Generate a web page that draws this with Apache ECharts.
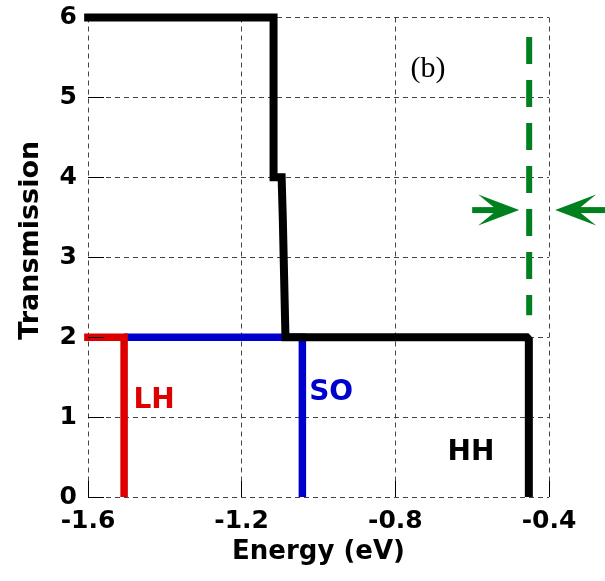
<!DOCTYPE html>
<html><head><meta charset="utf-8">
<script src="https://cdn.jsdelivr.net/npm/echarts@6/dist/echarts.min.js"></script>
<style>html,body{margin:0;padding:0;background:#fff}#c{width:605px;height:581px}</style>
</head><body><div id="c"></div>
<script>
// ---- data ----
const xTicks = [-1.6, -1.2, -0.8, -0.4];
const yTicks = [0, 1, 2, 3, 4, 5, 6];
const hhCurve = [[-1.61, 6], [-1.117, 6], [-1.117, 4.0], [-1.096, 4.0], [-1.093, 3.5], [-1.086, 2], [-0.458, 2], [-0.4525, 1.97], [-0.4525, 0]];
const soCurve = [[-1.506, 2], [-1.042, 2], [-1.042, 0]];
const lhCurve = [[-1.61, 2], [-1.506, 2], [-1.506, 0]];
const markerLine = [[-0.4516, 5.756], [-0.4516, 2.275]];
// arrows: [tailX, tailY, tipX, tipY]
const arrows = [[-0.6, 3.59, -0.4776, 3.59], [-0.254, 3.59, -0.384, 3.59]];
// annotations: [x, y, index]
const annotationText = ['(b)', 'LH', 'SO', 'HH'];
const annotationPos = [[-0.715, 5.35, 0], [-1.428, 1.21, 1], [-0.967, 1.30, 2], [-0.603, 0.56, 3]];

// ---- styles ----
const annotationStyle = [
  { font: '30px "Liberation Serif"', fill: '#000' },
  { font: 'bold 28px "DejaVu Sans"', fill: '#dd0000' },
  { font: 'bold 28px "DejaVu Sans"', fill: '#0000cc' },
  { font: 'bold 28px "DejaVu Sans"', fill: '#000' }
];
const GREEN = '#00801e';
const gridLine = { show: true, lineStyle: { color: '#444', width: 1, type: [5, 4] } };
const tickFont = { fontFamily: 'DejaVu Sans', fontWeight: 'bold', fontSize: 25, color: '#000' };
const nameFont = { fontFamily: 'DejaVu Sans', fontWeight: 'bold', fontSize: 26, color: '#000' };

const chart = echarts.init(document.getElementById('c'), null, { renderer: 'canvas' });
chart.setOption({
  animation: false,
  backgroundColor: '#fff',
  grid: { left: 88, right: 56, top: 17.5, bottom: 84, containLabel: false, outerBoundsMode: 'none' },
  xAxis: [{
    type: 'value', min: xTicks[0], max: xTicks[xTicks.length - 1], interval: 0.4,
    name: 'Energy (eV)', nameLocation: 'middle', nameGap: 38, nameTextStyle: nameFont,
    axisLine: { show: false },
    axisTick: { show: true, inside: true, length: 16, lineStyle: { color: '#000', width: 1 } },
    axisLabel: { ...tickFont, margin: 12, formatter: v => v.toFixed(1) },
    splitLine: gridLine
  }],
  yAxis: [{
    type: 'value', min: yTicks[0], max: yTicks[yTicks.length - 1], interval: 1,
    name: 'Transmission', nameLocation: 'middle', nameGap: 44,
    nameTextStyle: { ...nameFont, fontSize: 27, padding: [0, 0, 0, 34] },
    axisLine: { show: false },
    axisTick: { show: false },
    axisLabel: { ...tickFont, margin: 11 },
    splitLine: gridLine
  }, {
    type: 'value', min: yTicks[0], max: yTicks[yTicks.length - 1], interval: 1, position: 'left', z: 10,
    axisLine: { show: false }, axisLabel: { show: false }, splitLine: { show: false },
    axisTick: { show: true, inside: true, length: 16, lineStyle: { color: '#000', width: 1 } }
  }],
  series: [
    { type: 'line', data: soCurve, symbol: 'none', clip: false, z: 2,
      lineStyle: { color: '#0000cc', width: 7.5, join: 'miter' } },
    { type: 'line', data: lhCurve, symbol: 'none', clip: false, z: 3,
      lineStyle: { color: '#dd0000', width: 7.5, join: 'miter' } },
    { type: 'line', data: hhCurve, symbol: 'none', clip: false, z: 4,
      lineStyle: { color: '#000', width: 8, join: 'miter' } },
    { type: 'line', data: markerLine, symbol: 'none', clip: false, z: 4,
      lineStyle: { color: GREEN, width: 6, type: [27, 16] } },
    { type: 'custom', data: arrows, clip: false, z: 5,
      encode: { x: [0, 2], y: [1, 3] },
      renderItem: function (params, api) {
        const p0 = api.coord([api.value(0), api.value(1)]);
        const p1 = api.coord([api.value(2), api.value(3)]);
        const d = p1[0] > p0[0] ? 1 : -1;
        const headLen = 41, halfW = 15.5, notch = 22;
        return { type: 'group', children: [
          { type: 'line', shape: { x1: p0[0], y1: p0[1], x2: p1[0] - d * notch, y2: p1[1] },
            style: { stroke: GREEN, lineWidth: 6 } },
          { type: 'polygon', shape: { points: [
              [p1[0], p1[1]], [p1[0] - d * headLen, p1[1] - halfW],
              [p1[0] - d * notch, p1[1]], [p1[0] - d * headLen, p1[1] + halfW]] },
            style: { fill: GREEN } }
        ] };
      } },
    { type: 'custom', data: annotationPos, clip: false, z: 6,
      encode: { x: 0, y: 1 },
      renderItem: function (params, api) {
        const p = api.coord([api.value(0), api.value(1)]);
        const i = api.value(2);
        return { type: 'text', x: p[0], y: p[1],
          style: { text: annotationText[i], font: annotationStyle[i].font, fill: annotationStyle[i].fill,
                   align: 'center', verticalAlign: 'middle' } };
      } }
  ]
});
</script></body></html>
